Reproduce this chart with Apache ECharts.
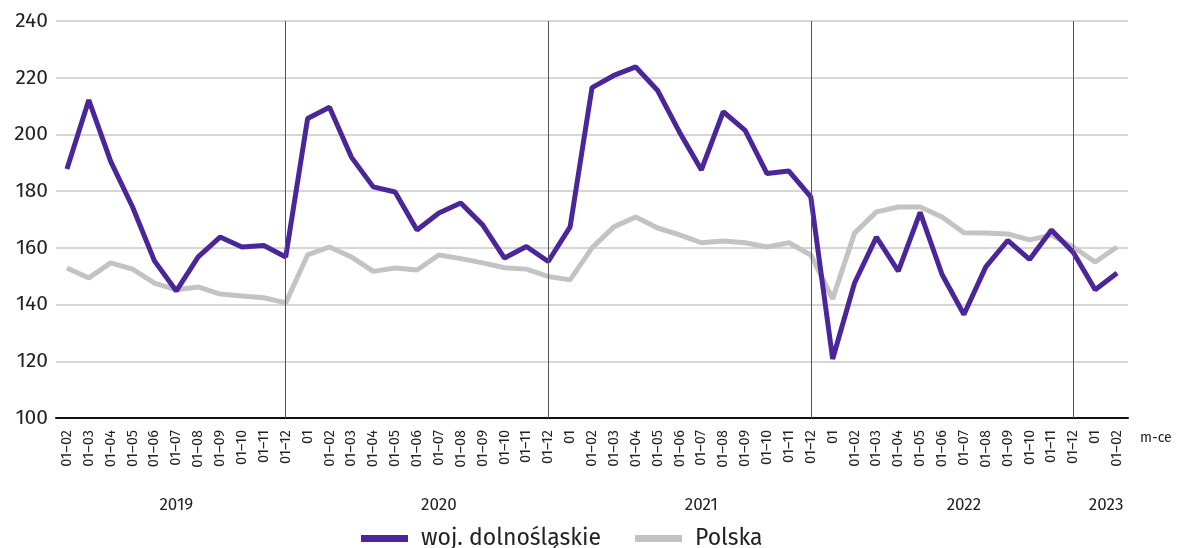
<!DOCTYPE html>
<html><head><meta charset="utf-8">
<script src="https://cdn.jsdelivr.net/npm/echarts@6/dist/echarts.min.js"></script>
<style>html,body{margin:0;padding:0;background:#fff}#c{width:1178px;height:548px}</style>
</head><body><div id="c"></div>
<script>
const categories = [
  '01–02','01–03','01–04','01–05','01–06','01–07','01–08','01–09','01–10','01–11','01–12',
  '01','01–02','01–03','01–04','01–05','01–06','01–07','01–08','01–09','01–10','01–11','01–12',
  '01','01–02','01–03','01–04','01–05','01–06','01–07','01–08','01–09','01–10','01–11','01–12',
  '01','01–02','01–03','01–04','01–05','01–06','01–07','01–08','01–09','01–10','01–11','01–12',
  '01','01–02'
];
const dolnoslaskie = [
  187.8,212.1,190.5,174.4,155.4,144.8,156.8,163.8,160.3,160.8,156.8,
  205.6,209.6,192.0,181.5,179.7,166.3,172.3,175.8,168.1,156.4,160.5,155.2,
  167.4,216.5,220.8,223.8,215.5,200.8,187.5,208.0,201.4,186.2,187.1,178.0,
  120.8,147.6,163.8,151.8,172.5,150.6,136.5,153.3,162.6,155.9,166.3,158.4,
  145.2,151.1
];
const polska = [
  152.9,149.4,154.7,152.5,147.6,145.2,146.2,143.7,143.0,142.4,140.6,
  157.5,160.3,156.8,151.7,152.9,152.2,157.5,156.2,154.7,153.0,152.5,149.9,
  148.7,160.0,167.4,170.9,167.0,164.6,161.8,162.4,161.8,160.3,161.8,157.5,
  142.0,165.2,172.7,174.4,174.4,170.9,165.3,165.2,164.9,162.8,164.5,160.3,
  155.0,160.3
];
const yearLabels = {'5':'2019','17':'2020','29':'2021','41':'2022','47.5':'2023'};
const separators = [10,22,34,46];
const yTicks = {min:100, max:240, step:20};

const font = '"Fira Sans","Open Sans","Noto Sans",sans-serif';
const chart = echarts.init(document.getElementById('c'), null, {renderer:'canvas'});
chart.setOption({
  animation:false,
  textStyle:{fontFamily:font},
  grid:{left:56, right:50, top:21, bottom:130, containLabel:false},
  legend:{
    top:522, left:356, itemGap:34, itemWidth:47, itemHeight:7, icon:'rect',
    textStyle:{fontSize:23, color:'#222', fontFamily:font, padding:[0,0,0,8]},
    data:['woj. dolnośląskie','Polska']
  },
  xAxis:[{
    type:'category', data:categories, boundaryGap:true,
    axisLine:{lineStyle:{color:'#111', width:2}},
    axisTick:{alignWithLabel:true, inside:true, length:3, lineStyle:{color:'#222', width:1.5}},
    axisLabel:{rotate:90, interval:0, fontSize:14.5, color:'#222', margin:12, fontFamily:font},
    name:'m-ce', nameLocation:'end', nameGap:12,
    nameTextStyle:{fontSize:14, color:'#222', align:'left', verticalAlign:'top', padding:[13,0,0,0]}
  },{
    type:'value', position:'bottom', offset:71, min:-0.5, max:48.5, interval:0.5,
    axisLine:{show:false}, axisTick:{show:false}, splitLine:{show:false},
    axisLabel:{fontSize:17, color:'#222', showMinLabel:true, showMaxLabel:true, hideOverlap:false,
      formatter:v=>yearLabels[String(v)]||''}
  }],
  yAxis:{
    type:'value', min:yTicks.min, max:yTicks.max, interval:yTicks.step,
    axisLine:{show:false}, axisTick:{show:false},
    axisLabel:{fontSize:21, color:'#222', margin:8, fontFamily:font},
    splitLine:{lineStyle:{color:'#c8c8c8', width:1.5}}
  },
  series:[{
    name:'woj. dolnośląskie', type:'line', data:dolnoslaskie, symbol:'none', z:3,
    lineStyle:{color:'#4b2699', width:5}, itemStyle:{color:'#4b2699'},
    markLine:{symbol:'none', silent:true, label:{show:false},
      lineStyle:{color:'#555', width:1, type:'solid'},
      data:separators.map(i=>[{coord:[i,100]},{coord:[i,240]}])}
  },{
    name:'Polska', type:'line', data:polska, symbol:'none', z:2,
    lineStyle:{color:'#c3c3c3', width:5}, itemStyle:{color:'#c3c3c3'}
  }]
});
</script></body></html>
